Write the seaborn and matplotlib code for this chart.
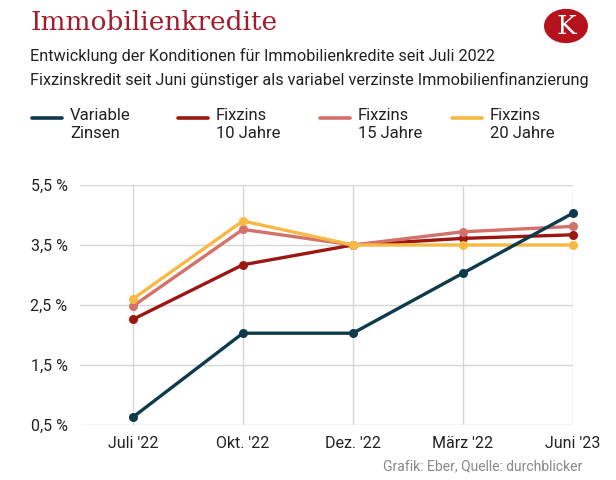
import matplotlib
matplotlib.use("Agg")
import matplotlib.pyplot as plt
import seaborn as sns
import pandas as pd
from matplotlib.patches import Circle
from matplotlib.lines import Line2D

months = ["Juli '22", "Okt. '22", "Dez. '22", "März '22", "Juni '23"]
variable = [0.63, 2.03, 2.03, 3.03, 4.03]
fix10 = [2.26, 3.17, 3.50, 3.61, 3.67]
fix15 = [2.48, 3.76, 3.50, 3.72, 3.81]
fix20 = [2.60, 3.90, 3.50, 3.50, 3.50]
series_names = ["Variable\nZinsen", "Fixzins\n10 Jahre", "Fixzins\n15 Jahre", "Fixzins\n20 Jahre"]
colors = ["#0e3a4c", "#9c1711", "#d4716b", "#f5b944"]
ytick_pos = [0.5, 1.5, 2.5, 3.5, 4.5]
ytick_labels = ["0,5 %", "1,5 %", "2,5 %", "3,5 %", "5,5 %"]

sns.set_theme(style="white")
cond = ["Roboto", "DejaVu Sans"]
plt.rcParams["font.family"] = cond

fig = plt.figure(figsize=(6.16, 4.8), dpi=100)
ax = fig.add_axes([0.13, 0.1146, 0.80, 0.5])

values = [variable, fix10, fix15, fix20]
rows = []
for name, vals in zip(series_names, values):
    for m, v in zip(months, vals):
        rows.append({"Monat": m, "Wert": v, "Serie": name})
df = pd.DataFrame(rows)

draw_order = [1, 2, 3, 0]
for z, i in enumerate(draw_order):
    sub = df[df["Serie"] == series_names[i]]
    sns.lineplot(data=sub, x="Monat", y="Wert", color=colors[i], ax=ax,
                 marker="o", markersize=6.5, markeredgewidth=0, linewidth=2.4,
                 sort=False, legend=False, zorder=3 + z, clip_on=False)

ax.set_xlim(-0.48, 4)
ax.set_ylim(0.5, 4.5)
ax.set_yticks(ytick_pos)
ax.set_yticklabels(ytick_labels)
ax.set_xticks(range(len(months)))
ax.set_xticklabels(months)
ax.set_xlabel("")
ax.set_ylabel("")
for s in ax.spines.values():
    s.set_visible(False)
ax.grid(True, color="#d6d6d6", linewidth=1.0)
ax.set_axisbelow(True)
ax.tick_params(axis="both", length=0, labelsize=11.5, colors="#222222")
ax.tick_params(axis="y", pad=9)
ax.tick_params(axis="x", pad=8)

# Header
fig.text(30 / 616, 1 - 22 / 480, "Immobilienkredite", fontsize=19,
         family=["DejaVu Serif"], color="#a31c2b", va="center", ha="left")
fig.text(30 / 616, 1 - 56 / 480, "Entwicklung der Konditionen für Immobilienkredite seit Juli 2022",
         fontsize=11.7, color="#222222", va="center", ha="left")
fig.text(30 / 616, 1 - 80 / 480, "Fixzinskredit seit Juni günstiger als variabel verzinste Immobilienfinanzierung",
         fontsize=11.7, color="#222222", va="center", ha="left")

# Logo
circ = Circle((566 / 616, 1 - 26 / 480), 22 / 616, transform=fig.transFigure,
              facecolor="#b5121b", edgecolor="none")
fig.patches.append(circ)
fig.text(566 / 616, 1 - 27 / 480, "K", fontsize=19, family=["DejaVu Serif"],
         color="white", ha="center", va="center")

# Legend
leg_x = [32, 178, 320, 452]
for name, col, x0 in zip(series_names, colors, leg_x):
    y = 1 - 118 / 480
    fig.add_artist(Line2D([x0 / 616, (x0 + 30) / 616], [y, y], color=col,
                          linewidth=2.6, transform=fig.transFigure))
    fig.text((x0 + 38) / 616, 1 - 108 / 480, name, fontsize=12, color="#222222",
             va="top", ha="left", linespacing=1.25)

fig.text(582 / 616, 1 - 466 / 480, "Grafik: Eber, Quelle: durchblicker",
         fontsize=10, color="#888888", ha="right", va="center")

fig.savefig("out.png", dpi=100)
